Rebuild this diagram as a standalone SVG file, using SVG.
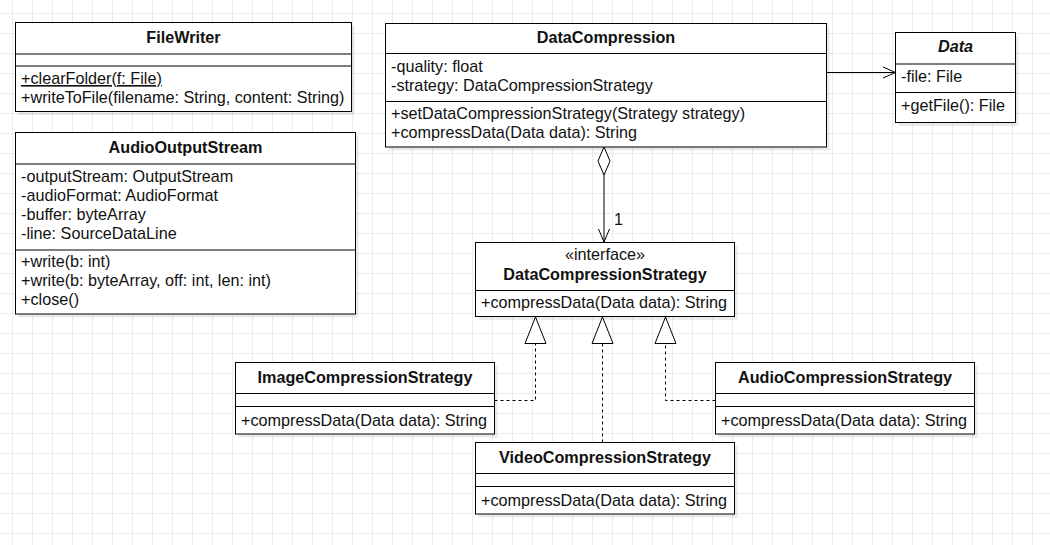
<svg xmlns="http://www.w3.org/2000/svg" width="1050" height="545" viewBox="0 0 1050 545">
<defs>
<pattern id="grid" x="2" y="3" width="20" height="20" patternUnits="userSpaceOnUse">
<rect x="10" y="0" width="1" height="20" fill="#ebebeb"/>
<rect x="0" y="10" width="20" height="1" fill="#ebebeb"/>
</pattern>
<style>
.box{fill:#fff;stroke:#000;stroke-width:1}
.sh{fill:#000;fill-opacity:0.08}
.div{stroke:#000;stroke-width:1}
text{font-family:"Liberation Sans",Arial,Helvetica,sans-serif;font-size:16.2px;fill:#111}
.t{font-weight:bold;text-anchor:middle}
.c{text-anchor:middle}
.ln{fill:none;stroke:#000;stroke-width:1}
.dash{fill:none;stroke:#000;stroke-width:1;stroke-dasharray:3 3}
.tri{fill:#fff;stroke:#000;stroke-width:1}
</style>
</defs>
<rect width="1050" height="545" fill="#fff"/>
<rect width="1050" height="545" fill="url(#grid)"/>

<g id="FileWriter">
<rect class="sh" x="18.5" y="26" width="336" height="89"/>
<rect class="box" x="15.5" y="22.5" width="336" height="89"/>
<text class="t" x="183.5" y="43">FileWriter</text>
<line class="div" x1="15.5" y1="54" x2="351.5" y2="54"/>
<line class="div" x1="15.5" y1="66" x2="351.5" y2="66"/>
<text x="21" y="84" text-decoration="underline">+clearFolder(f: File)</text>
<text x="21" y="103">+writeToFile(filename: String, content: String)</text>
</g>

<g id="AudioOutputStream">
<rect class="sh" x="18.5" y="136" width="340" height="181.5"/>
<rect class="box" x="15.5" y="132.5" width="340" height="181.5"/>
<text class="t" x="185.5" y="153">AudioOutputStream</text>
<line class="div" x1="15.5" y1="164" x2="355.5" y2="164"/>
<text x="21" y="182">-outputStream: OutputStream</text>
<text x="21" y="201">-audioFormat: AudioFormat</text>
<text x="21" y="220">-buffer: byteArray</text>
<text x="21" y="239">-line: SourceDataLine</text>
<line class="div" x1="15.5" y1="250" x2="355.5" y2="250"/>
<text x="21" y="267">+write(b: int)</text>
<text x="21" y="286">+write(b: byteArray, off: int, len: int)</text>
<text x="21" y="305">+close()</text>
</g>

<g id="DataCompression">
<rect class="sh" x="388.5" y="27" width="441" height="123.5"/>
<rect class="box" x="385.5" y="23.5" width="441" height="123.5"/>
<text class="t" x="606" y="42.5">DataCompression</text>
<line class="div" x1="385.5" y1="53.5" x2="826.5" y2="53.5"/>
<text x="391" y="71.5">-quality: float</text>
<text x="391" y="90.5">-strategy: DataCompressionStrategy</text>
<line class="div" x1="385.5" y1="101.5" x2="826.5" y2="101.5"/>
<text x="391" y="119">+setDataCompressionStrategy(Strategy strategy)</text>
<text x="391" y="138">+compressData(Data data): String</text>
</g>

<g id="Data">
<rect class="sh" x="898.5" y="36" width="120" height="90"/>
<rect class="box" x="895.5" y="32.5" width="120" height="90"/>
<text class="t" x="955.5" y="52" font-style="italic">Data</text>
<line class="div" x1="895.5" y1="64" x2="1015.5" y2="64"/>
<text x="901" y="82">-file: File</text>
<line class="div" x1="895.5" y1="92.5" x2="1015.5" y2="92.5"/>
<text x="901" y="110.5">+getFile(): File</text>
</g>

<g id="DataCompressionStrategy">
<rect class="sh" x="478.5" y="246" width="259" height="74"/>
<rect class="box" x="475.5" y="242.5" width="259" height="74"/>
<text class="c" x="605" y="260">«interface»</text>
<text class="t" x="605" y="280">DataCompressionStrategy</text>
<line class="div" x1="475.5" y1="290.5" x2="734.5" y2="290.5"/>
<text x="481" y="308">+compressData(Data data): String</text>
</g>

<g id="ImageCompressionStrategy">
<rect class="sh" x="238.5" y="366" width="259" height="71.5"/>
<rect class="box" x="235.5" y="362.5" width="259" height="71.5"/>
<text class="t" x="365" y="383">ImageCompressionStrategy</text>
<line class="div" x1="235.5" y1="393.5" x2="494.5" y2="393.5"/>
<line class="div" x1="235.5" y1="406.5" x2="494.5" y2="406.5"/>
<text x="241" y="425.5">+compressData(Data data): String</text>
</g>

<g id="VideoCompressionStrategy">
<rect class="sh" x="478.5" y="446" width="259" height="71.5"/>
<rect class="box" x="475.5" y="442.5" width="259" height="71.5"/>
<text class="t" x="605" y="463">VideoCompressionStrategy</text>
<line class="div" x1="475.5" y1="473.5" x2="734.5" y2="473.5"/>
<line class="div" x1="475.5" y1="486.5" x2="734.5" y2="486.5"/>
<text x="481" y="505.5">+compressData(Data data): String</text>
</g>

<g id="AudioCompressionStrategy">
<rect class="sh" x="718.5" y="366" width="259" height="71.5"/>
<rect class="box" x="715.5" y="362.5" width="259" height="71.5"/>
<text class="t" x="845" y="383">AudioCompressionStrategy</text>
<line class="div" x1="715.5" y1="393.5" x2="974.5" y2="393.5"/>
<line class="div" x1="715.5" y1="406.5" x2="974.5" y2="406.5"/>
<text x="721" y="425.5">+compressData(Data data): String</text>
</g>

<g id="connectors">
<line class="ln" x1="826.5" y1="72.5" x2="895" y2="72.5"/>
<polyline class="ln" points="883,67 895.5,72.5 883,78"/>
<line class="ln" x1="604" y1="175" x2="604" y2="242"/>
<polygon class="tri" points="604,147 598,161 604,175 610,161"/>
<polyline class="ln" points="598.5,229 604,242 609.5,229"/>
<text x="614" y="225">1</text>
<path class="dash" d="M494.5 400.5 H535.5 V343.5"/>
<polygon class="tri" points="535.5,317 525,343.5 546,343.5"/>
<path class="dash" d="M602.5 442.5 V343.5"/>
<polygon class="tri" points="602.5,317 592,343.5 613,343.5"/>
<path class="dash" d="M715.5 400.5 H665.5 V343.5"/>
<polygon class="tri" points="665.5,317 655,343.5 676,343.5"/>
</g>
</svg>
